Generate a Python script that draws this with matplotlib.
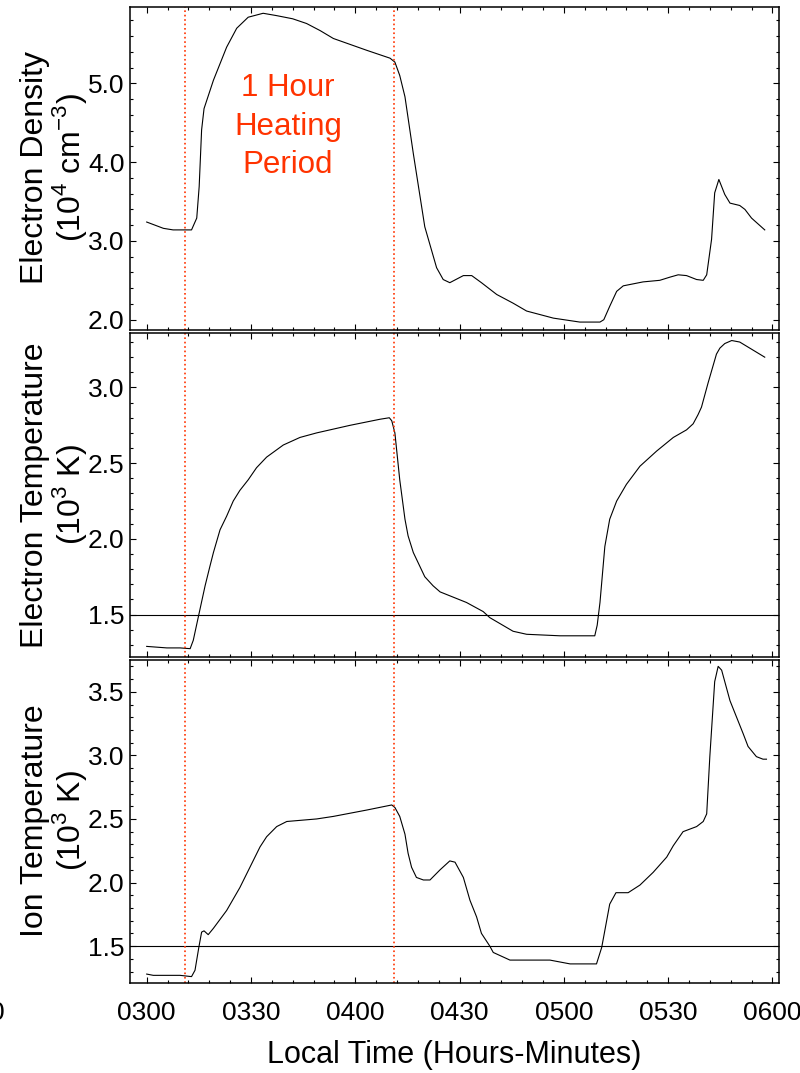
import numpy as np
import matplotlib
matplotlib.use('Agg')
import matplotlib.pyplot as plt
from matplotlib.ticker import MultipleLocator

plt.rcParams['font.family'] = ['Liberation Sans', 'DejaVu Sans']

# minutes after 0300 local time
ne_t = [0, 4.8, 7.6, 12.9, 14.4, 15.1, 15.8, 16.5, 19.2, 23.0, 25.9, 29.2, 33.5, 37.4,
        42.0, 46.0, 49.9, 53.7, 63.3, 70.0, 71.4, 72.8, 74.3, 76.7, 80.0, 83.4, 85.3, 87.2,
        91.1, 93.5, 96.3, 100.7, 105.4, 109.3, 117.0, 124.6, 130.4, 131.5, 133.2, 135.2,
        137.1, 142.8, 147.6, 150.5, 152.9, 155.3, 158.2, 160.1, 161.1, 162.5, 163.4, 164.6,
        166.3, 167.8, 170.6, 172.1, 174.0, 177.8]
ne_v = [3.24, 3.16, 3.14, 3.14, 3.29, 3.69, 4.41, 4.68, 5.04, 5.46, 5.70, 5.84, 5.89, 5.86,
        5.82, 5.76, 5.67, 5.57, 5.42, 5.32, 5.27, 5.10, 4.83, 4.11, 3.18, 2.66, 2.51, 2.47,
        2.56, 2.56, 2.47, 2.32, 2.21, 2.11, 2.02, 1.97, 1.97, 2.00, 2.17, 2.36,
        2.43, 2.48, 2.50, 2.54, 2.57, 2.56, 2.51, 2.50, 2.57, 3.02, 3.61, 3.78,
        3.59, 3.48, 3.45, 3.40, 3.29, 3.14]

te_t = [0, 5.8, 9.6, 12.5, 13.4, 15.0, 16.8, 18.2, 19.2, 21.1, 23.0, 24.9, 26.8, 29.2,
        31.6, 34.5, 39.3, 44.1, 48.9, 58.5, 67.1, 69.8, 70.5, 71.4, 72.8, 74.3, 75.2,
        76.7, 80.0, 82.4, 84.4, 92.0, 96.8, 98.7, 105.4, 109.3, 118.9, 128.9, 129.6,
        130.4, 131.8, 133.2, 135.2, 138.0, 141.9, 146.7, 151.5, 155.3, 157.2, 158.6,
        159.6, 161.5, 163.9, 164.9, 166.3, 168.3, 170.6, 177.8]
te_v = [1.29, 1.28, 1.28, 1.275, 1.33, 1.50, 1.69, 1.82, 1.91, 2.06, 2.15, 2.25, 2.32, 2.39,
        2.47, 2.54, 2.62, 2.67, 2.70, 2.75, 2.79, 2.80, 2.78, 2.70, 2.39, 2.13, 2.02,
        1.91, 1.75, 1.69, 1.65, 1.58, 1.52, 1.48, 1.39, 1.37, 1.36, 1.36, 1.43,
        1.58, 1.95, 2.13, 2.25, 2.36, 2.48, 2.58, 2.67, 2.72, 2.76, 2.82,
        2.87, 3.03, 3.22, 3.26, 3.29, 3.31, 3.30, 3.20]

ti_t = [0, 1.9, 9.6, 12.9, 13.9, 15.0, 15.8, 16.5, 17.7, 19.2, 23.0, 26.8, 29.7, 32.6,
        34.5, 37.4, 40.3, 48.9, 53.7, 63.3, 70.5, 71.4, 72.8, 74.3, 75.2, 76.2, 77.6,
        79.6, 81.5, 84.4, 87.2, 88.7, 91.1, 93.0, 94.9, 96.3, 98.7, 99.7, 104.5, 116.0,
        121.8, 129.4, 130.9, 133.2, 135.0, 138.5, 141.9, 145.7, 149.6, 151.5, 154.3,
        158.2, 160.1, 161.1, 162.0, 163.4, 164.4, 165.4, 167.8, 169.7, 171.6, 173.0,
        175.4, 177.3, 178.3]
ti_v = [1.28, 1.27, 1.27, 1.26, 1.31, 1.49, 1.61, 1.62, 1.59, 1.64, 1.78, 1.96, 2.12, 2.28,
        2.36, 2.44, 2.48, 2.50, 2.52, 2.57, 2.61, 2.59, 2.52, 2.38, 2.23, 2.12, 2.04,
        2.02, 2.02, 2.10, 2.17, 2.16, 2.04, 1.86, 1.73, 1.60, 1.50, 1.45, 1.39, 1.39,
        1.36, 1.36, 1.49, 1.83, 1.92, 1.92, 1.98, 2.08, 2.20, 2.29, 2.40,
        2.44, 2.48, 2.54, 2.99, 3.58, 3.70, 3.67, 3.43, 3.30, 3.17, 3.07,
        2.99, 2.97, 2.97]

heat_start, heat_end = 11.1, 71.1
xtick_pos = [0, 30, 60, 90, 120, 150, 180]
xtick_lab = ['0300', '0330', '0400', '0430', '0500', '0530', '0600']

red = '#ff3300'
fig = plt.figure(figsize=(8, 10.73), dpi=100)

ax1 = fig.add_axes([0.1625, 0.6925, 0.81125, 0.301])
ax2 = fig.add_axes([0.1625, 0.3877, 0.81125, 0.302])
ax3 = fig.add_axes([0.1625, 0.0839, 0.81125, 0.301])

ax1.plot(ne_t, ne_v, color='black', lw=0.8)
ax2.plot(te_t, te_v, color='black', lw=0.8)
ax3.plot(ti_t, ti_v, color='black', lw=0.8)

ax1.set_ylim(1.87, 5.97)
ax2.set_ylim(1.22, 3.36)
ax3.set_ylim(1.21, 3.75)

ax1.yaxis.set_major_locator(MultipleLocator(1.0))
ax1.yaxis.set_minor_locator(MultipleLocator(0.2))
for ax in (ax2, ax3):
    ax.yaxis.set_major_locator(MultipleLocator(0.5))
    ax.yaxis.set_minor_locator(MultipleLocator(0.1))
    ax.axhline(1.5, color='black', lw=0.8)

for ax in (ax1, ax2, ax3):
    ax.set_xlim(-4.8, 181.9)
    ax.set_xticks(xtick_pos)
    ax.xaxis.set_minor_locator(MultipleLocator(6))
    ax.axvline(heat_start, color=red, ls=':', lw=1.2)
    ax.axvline(heat_end, color=red, ls=':', lw=1.2)
    ax.tick_params(which='both', direction='in', top=True, right=True, width=0.8)
    ax.tick_params(which='major', length=4)
    ax.tick_params(which='minor', length=2.3)
    ax.tick_params(axis='y', labelsize=19, pad=4)
    ax.yaxis.set_major_formatter(matplotlib.ticker.FormatStrFormatter('%.1f'))
    for s in ax.spines.values():
        s.set_linewidth(1.1)

ax1.tick_params(axis='x', labelbottom=False)
ax2.tick_params(axis='x', labelbottom=False)
ax3.set_xticklabels(xtick_lab)
ax3.tick_params(axis='x', labelsize=19, pad=13)
ax3.set_xlabel('Local Time (Hours-Minutes)', fontsize=22, labelpad=11)

ax1.text(40.6, 4.45, '1 Hour\nHeating\nPeriod', color=red, fontsize=22.5,
         ha='center', va='center', linespacing=1.36)

fig.text(0.068, 0.8435, 'Electron Density\n(10$^{\\mathregular{4}}$ cm$^{\\mathregular{-3}}$)',
         rotation=90, ha='center', va='center', fontsize=23, linespacing=1.02)
fig.text(0.068, 0.5387, 'Electron Temperature\n(10$^{\\mathregular{3}}$ K)',
         rotation=90, ha='center', va='center', fontsize=23, linespacing=1.02)
fig.text(0.068, 0.2349, 'Ion Temperature\n(10$^{\\mathregular{3}}$ K)',
         rotation=90, ha='center', va='center', fontsize=23, linespacing=1.02)

fig.text(0.006, 0.056, '0', ha='right', va='center', fontsize=19)

fig.savefig('out.png', dpi=100)
